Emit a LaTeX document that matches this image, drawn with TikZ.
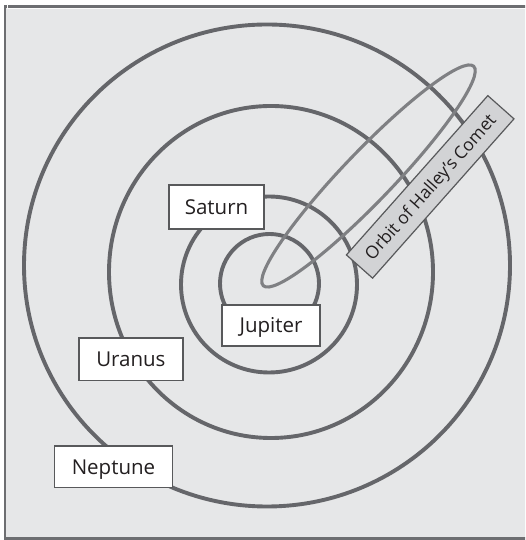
\documentclass[tikz,border=0pt]{standalone}
\usepackage{fontspec}
\newfontfamily\lblfont{Open Sans}
\definecolor{bgfill}{HTML}{E6E7E8}
\definecolor{framec}{HTML}{6D6E71}
\definecolor{orbitc}{HTML}{65666A}
\definecolor{cometc}{HTML}{7F8083}
\definecolor{boxline}{HTML}{58595B}
\definecolor{halleyfill}{HTML}{D2D3D5}
\definecolor{textc}{HTML}{231F20}
\tikzset{
  orbit/.style={draw=orbitc, line width=3.9pt},
  comet/.style={draw=cometc, line width=3.1pt},
  lbl/.style={draw=boxline, fill=white, line width=1.2pt, inner sep=0pt, text=textc,
    font=\lblfont\fontsize{20.5}{24}\selectfont, text height=14.8pt, text depth=0pt},
  halley/.style={draw=boxline, fill=halleyfill, line width=1.2pt, inner sep=0pt, text=textc,
    font=\lblfont\fontsize{17.5}{20}\selectfont, text height=12.5pt, text depth=0pt,
    minimum width=213pt, minimum height=35pt}
}
\begin{document}
\begin{tikzpicture}[x=1pt,y=1pt]
\useasboundingbox (0,0) rectangle (525,540);
\clip (0,0) rectangle (525,540);
\fill[white] (0,0) rectangle (525,540);
% frame
\draw[framec, fill=bgfill, line width=2.8pt] (5,1.7) rectangle (535,533.8);
\draw[white!85!bgfill, line width=0.8pt] (7.3,536) -- (7.3,531.5) -- (535,531.5);
% orbits
\draw[orbit] (267,274.5) ellipse [x radius=243, y radius=241];
\draw[orbit] (271,268) ellipse [x radius=162, y radius=166];
\draw[orbit] (269,255.5) circle [radius=88];
\draw[orbit] (269.5,256.5) circle [radius=49.5];
% comet orbit
\draw[comet] (368.5,364) ellipse [x radius=152, y radius=25, rotate=46.2];
% labels
\node[lbl, minimum width=95pt, minimum height=44pt] (saturn) at (216.5,333) {Saturn};
\node[lbl, minimum width=98pt, minimum height=41pt] (jupiter) at (271,214.5) {Jupiter};
\node[lbl, minimum width=104pt, minimum height=42.7pt] (uranus) at (130.9,180.6) {Uranus};
\node[lbl, minimum width=118.4pt, minimum height=41.3pt] (neptune) at (113.5,73.3) {Neptune};
\node[halley, rotate=48.4] (halley) at (430.2,353.1) {Orbit of Halley’s Comet};
\end{tikzpicture}
\end{document}
